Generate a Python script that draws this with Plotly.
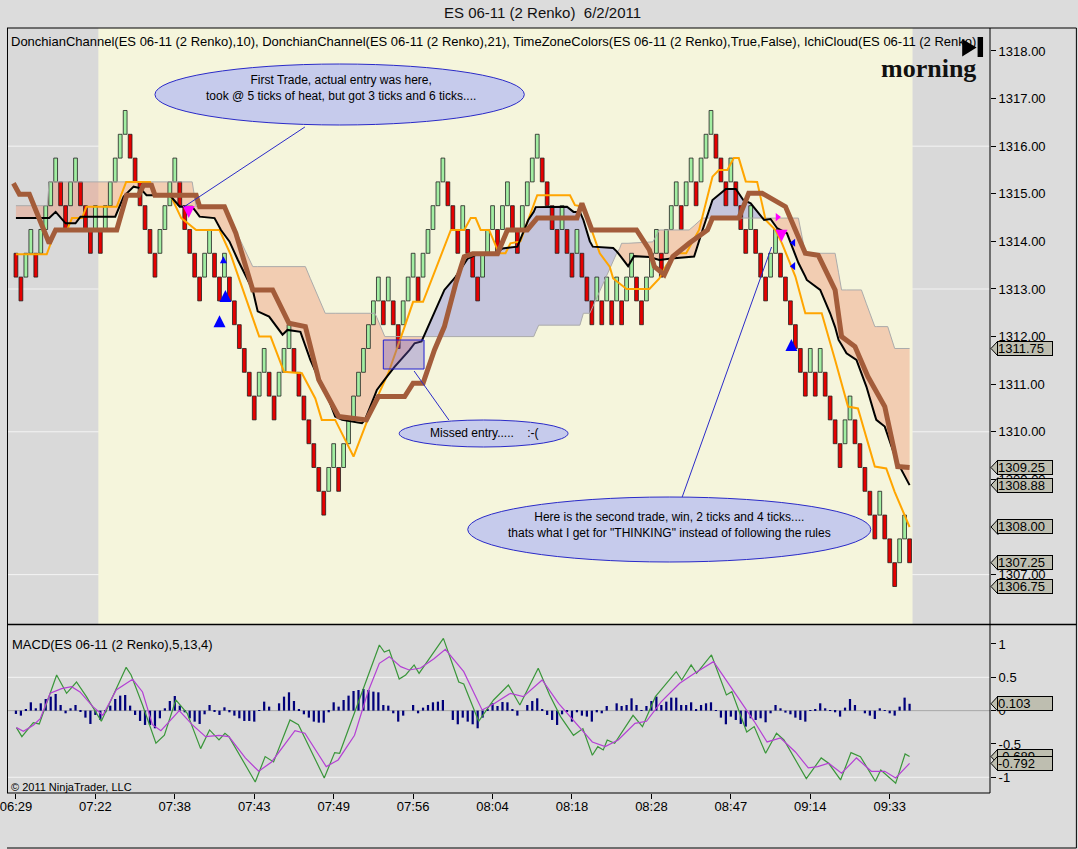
import plotly.graph_objects as go

# ---------------- data ----------------
# Renko closes (2 tick bricks = 0.5 pt), one per bar, left to right
closes = [
    1313.25, 1312.75, 1313.75, 1314.25, 1313.25, 1314.25, 1314.75, 1315.25, 1315.75, 1314.75,
    1314.25, 1315.25, 1315.75, 1314.75, 1314.25, 1313.75, 1314.75, 1313.75, 1314.75, 1315.25,
    1315.75, 1316.25, 1316.75, 1315.75, 1315.25, 1314.75, 1314.25, 1313.75, 1313.25, 1314.25,
    1314.75, 1315.25, 1315.75, 1314.75, 1314.25, 1313.75, 1313.25, 1312.75, 1313.75, 1314.25,
    1313.25, 1312.75, 1313.75, 1312.75, 1312.25, 1311.75, 1311.25, 1310.75, 1310.25, 1311.25,
    1311.75, 1310.75, 1310.25, 1311.25, 1311.75, 1312.25, 1311.25, 1310.75, 1310.25, 1309.75,
    1309.25, 1308.75, 1308.25, 1309.25, 1309.75, 1308.75, 1309.75, 1310.25, 1310.75, 1311.25,
    1311.75, 1312.25, 1312.75, 1313.25, 1312.25, 1313.25, 1312.25, 1311.75, 1312.75, 1313.25,
    1313.75, 1312.75, 1313.75, 1314.25, 1314.75, 1315.25, 1315.75, 1314.75, 1314.25, 1313.75,
    1314.75, 1313.75, 1313.25, 1312.75, 1313.75, 1314.25, 1314.75, 1313.75, 1314.75, 1315.25,
    1314.25, 1313.75, 1314.75, 1315.25, 1315.75, 1316.25, 1315.25, 1314.75, 1314.25, 1313.75,
    1314.75, 1313.75, 1313.25, 1314.25, 1313.25, 1312.75, 1312.25, 1313.25, 1312.25, 1313.25,
    1312.25, 1313.25, 1312.25, 1313.25, 1313.75, 1312.75, 1312.25, 1313.25, 1313.75, 1314.25,
    1313.25, 1314.25, 1314.75, 1315.25, 1314.25, 1315.25, 1315.75, 1314.75, 1315.75, 1316.25,
    1316.75, 1315.75, 1315.25, 1314.75, 1315.75, 1314.75, 1314.25, 1313.75, 1314.75, 1313.75,
    1313.25, 1312.75, 1313.75, 1314.25, 1313.25, 1312.75, 1312.25, 1311.75, 1311.25, 1310.75,
    1311.75, 1310.75, 1311.75, 1310.75, 1310.25, 1309.75, 1309.25, 1310.25, 1310.75, 1309.75,
    1309.25, 1308.75, 1308.25, 1307.75, 1308.75, 1307.75, 1307.25, 1306.75, 1307.75, 1308.25,
    1307.25,
]
first_open = 1313.75
brick = 0.5

tick_labels = ["06:29", "07:22", "07:38", "07:43", "07:49", "07:56",
               "08:04", "08:18", "08:28", "08:47", "09:14", "09:33"]
tick_bars = [0, 16, 32, 48, 64, 80, 96, 112, 128, 144, 160, 176]
price_ticks = [1307, 1308, 1309, 1310, 1311, 1312, 1313, 1314, 1315, 1316, 1317, 1318]

# Donchian(10) middle (orange)
orange_x = [0, 6.2, 8, 10.3, 11.3, 13.3, 14.2, 20.3, 22.2, 27, 28.3, 31, 33.3, 36.3, 41, 43.3,
            49, 51.3, 54, 57.6, 60.3, 61.6, 64.3, 68, 71.6, 75, 78.3, 80, 82, 87.6, 90.3, 91.6,
            92.6, 93.6, 95.3, 97.3, 98.6, 99.6, 101.6, 103.3, 105, 111.6, 112.6, 114.3, 116,
            117.6, 119.6, 120.3, 123, 127.6, 129.6, 131, 133, 135, 137.6, 140.3, 141.6, 143.3,
            144.6, 145.6, 147, 149.3, 151, 153, 154.3, 157, 159, 162.3, 165, 167.6, 169.6, 173,
            175.3, 177, 180]
orange_y = [1313.73, 1313.73, 1314.24, 1314.24, 1314.49, 1314.49, 1314.73, 1314.73, 1315.25,
            1315.25, 1314.97, 1315.0, 1314.49, 1314.24, 1314.24, 1313.71, 1312.0, 1312.0,
            1311.26, 1311.23, 1310.70, 1310.25, 1310.25, 1309.48, 1310.46, 1311.23, 1312.21,
            1312.73, 1312.73, 1314.24, 1314.24, 1314.49, 1314.49, 1314.24, 1314.24, 1313.75,
            1313.75, 1313.96, 1314.0, 1314.48, 1314.97, 1314.97, 1314.76, 1314.73, 1314.24,
            1313.75, 1313.47, 1313.22, 1313.0, 1313.0, 1313.22, 1313.5, 1313.75, 1313.75,
            1314.24, 1315.36, 1315.5, 1315.5, 1315.75, 1315.75, 1315.26, 1315.25, 1314.45,
            1314.24, 1313.96, 1313.26, 1312.49, 1312.49, 1311.51, 1310.53, 1310.49, 1309.27,
            1309.23, 1308.74, 1308.0]

# Donchian(21) middle (thick brown)
brown_x = [-0.5, 0.7, 2.7, 6.7, 8, 20.3, 22.3, 24.7, 25.7, 27.3, 28, 36.3, 37, 42, 44.3, 47.7,
           51.7, 55, 58.3, 61, 65, 70.6, 73, 78.3, 80, 82, 84.3, 86.3, 88.6, 90.3, 92, 97, 99,
           103, 105, 113, 114, 116, 125, 127.6, 128.6, 130.6, 132.3, 135.6, 139.3, 140.3, 145.6,
           147.6, 150.3, 155, 157, 159, 161.6, 165, 166.3, 169, 171.6, 175, 177.6, 180]
brown_y = [1315.22, 1314.99, 1314.99, 1313.96, 1314.24, 1314.24, 1314.97, 1314.97, 1315.18,
           1315.18, 1314.97, 1314.97, 1314.73, 1314.73, 1314.17, 1312.98, 1312.98, 1312.28,
           1312.21, 1311.09, 1310.32, 1310.25, 1310.74, 1310.74, 1311.02, 1311.02, 1311.72,
           1312.21, 1313.12, 1313.68, 1313.74, 1313.74, 1314.24, 1314.24, 1314.49, 1314.49,
           1314.8, 1314.24, 1314.24, 1313.82, 1313.47, 1313.3, 1313.68, 1313.96, 1314.24,
           1314.49, 1314.49, 1315.01, 1315.01, 1314.73, 1314.24, 1313.75, 1313.71, 1312.98,
           1312.0, 1311.79, 1311.16, 1310.53, 1309.27, 1309.25]

# Ichi cloud: span A (black line) and span B (grey edge) on one grid
ichi_x = [0, 6.3, 6.7, 8, 9, 10, 12, 13, 20, 21.7,
          23.7, 25, 26.3, 31, 33, 35.5, 36.3, 37, 40, 41.3,
          42, 43, 44.7, 46.7, 47.7, 48.7, 51, 53.7, 54.7, 57.3,
          58.3, 59.3, 60.5, 62, 62.3, 64.3, 65.7, 69.7, 70.3, 72.3,
          72.7, 74.3, 76.3, 79.3, 80.3, 81.7, 84.3, 86.3, 88.6, 91,
          93.3, 96.7, 98, 101, 103.2, 104.3, 104.7, 105.3, 111, 112.3,
          113.6, 114.3, 115.6, 116.2, 120.3, 121, 121.6, 122, 123.3, 124.5,
          127.6, 128.3, 129.6, 132, 135.6, 136.6, 138.3, 140.3, 143, 145,
          146.5, 148, 149.3, 150.7, 152, 153.3, 155.3, 157.3, 157.6, 159,
          159.3, 162, 164, 165, 165.7, 166.3, 167.3, 169.3, 170.3, 171.3,
          173, 173.3, 175, 175.6, 177, 177.3, 180]
span_a = [1314.49, 1314.49, 1314.49, 1314.62, 1314.49, 1314.38, 1314.38, 1314.52, 1314.52, 1314.94,
          1315.15, 1315.12, 1314.97, 1314.97, 1314.73, 1314.73, 1314.62, 1314.52, 1314.49, 1314.24,
          1314.14, 1314.0, 1313.61, 1313.19, 1312.98, 1312.53, 1312.42, 1312.04, 1312.14, 1312.1,
          1311.8, 1311.51, 1311.23, 1310.95, 1310.87, 1310.32, 1310.25, 1310.18, 1310.25, 1310.77,
          1310.88, 1311.1, 1311.37, 1311.72, 1311.86, 1311.9, 1312.49, 1312.98, 1313.26, 1313.64,
          1313.75, 1313.75, 1313.85, 1313.89, 1314.45, 1314.62, 1314.72, 1314.72, 1314.73, 1314.62,
          1314.62, 1314.45, 1314.0, 1313.89, 1313.86, 1313.79, 1313.72, 1313.66, 1313.48, 1313.69,
          1313.67, 1313.65, 1313.61, 1313.64, 1313.67, 1313.68, 1314.24, 1314.87, 1315.1, 1315.1,
          1314.87, 1314.8, 1314.63, 1314.45, 1314.47, 1314.28, 1314.17, 1313.61, 1313.55, 1313.26,
          1313.19, 1312.98, 1312.49, 1312.2, 1311.93, 1311.83, 1311.65, 1311.51, 1311.23, 1310.95,
          1310.35, 1310.25, 1310.11, 1309.93, 1309.5, 1309.41, 1308.88]
span_b = [1314.75, 1314.75, 1315.25, 1315.25, 1315.25, 1315.25, 1315.25, 1315.25, 1315.25, 1315.25,
          1315.25, 1315.25, 1315.25, 1315.25, 1315.25, 1315.25, 1314.73, 1314.73, 1314.73, 1314.73,
          1314.73, 1314.51, 1314.13, 1313.69, 1313.47, 1313.47, 1313.47, 1313.47, 1313.47, 1313.47,
          1313.47, 1313.22, 1312.93, 1312.56, 1312.49, 1312.49, 1312.49, 1312.49, 1312.49, 1312.49,
          1312.4, 1312.0, 1312.0, 1312.0, 1312.0, 1312.0, 1312.0, 1312.0, 1312.0, 1312.0,
          1312.0, 1312.0, 1312.0, 1312.0, 1312.0, 1312.0, 1312.1, 1312.24, 1312.24, 1312.24,
          1312.24, 1312.49, 1312.49, 1312.63, 1313.59, 1313.75, 1313.85, 1313.96, 1313.96, 1313.97,
          1313.98, 1313.99, 1314.24, 1314.24, 1314.24, 1314.33, 1314.49, 1314.49, 1314.49, 1314.49,
          1314.49, 1314.49, 1314.49, 1314.49, 1314.49, 1314.49, 1314.49, 1314.49, 1314.49, 1313.75,
          1313.75, 1313.75, 1313.75, 1313.75, 1313.34, 1312.98, 1312.98, 1312.98, 1312.98, 1312.69,
          1312.21, 1312.21, 1312.21, 1312.21, 1311.75, 1311.75, 1311.75]
channel_low_last = 1306.75

# trade markers
sell_x = [34.8, 154.2]
sell_y = [1314.49, 1313.99]
buy_x = [41.0, 42.2, 156.2]
buy_y = [1312.45, 1312.98, 1311.95]
tick_up_x = [41.8]
tick_up_y = [1313.69]
exit_short_x = [153.4]
exit_short_y = [1314.51]
exit_long_x = [156.6, 156.6]
exit_long_y = [1313.97, 1313.48]

# MACD(5,13,4)
macd_x = [0.1, 1.2, 3.5, 4.7, 8.2, 10.2, 12.2, 14.2, 17.2, 22.2, 23.2, 25.5, 28.2, 29.9, 32.2,
          34.5, 37.2, 39.0, 40.9, 42.1, 42.9, 48.2, 50.2, 51.9, 55.2, 56.9, 62.1, 64.2, 65.2,
          73.2, 74.2, 75.2, 77.2, 78.5, 80.2, 81.2, 86.1, 89.2, 90.2, 93.2, 96.2, 99.2, 101.5,
          105.2, 107.5, 109.7, 112.3, 114.2, 116.1, 117.2, 118.3, 119.1, 120.6, 124.3, 126.2,
          128.8, 133.0, 134.1, 136.0, 137.1, 140.1, 143.1, 144.2, 147.2, 148.7, 151.0, 153.2,
          154.7, 159.2, 162.2, 163.7, 166.1, 168.2, 170.1, 173.1, 174.2, 177.2, 179.1, 180.0]
macd_y = [-0.255, -0.39, -0.18, -0.2, 0.535, 0.26, 0.43, 0.21, -0.16, 0.65, 0.535, 0.085, -0.49,
          -0.37, 0.16, -0.04, -0.57, -0.29, -0.44, -0.34, -0.39, -1.07, -0.69, -0.77, -0.14,
          -0.21, -1.01, -0.63, -0.64, 0.985, 0.88, 0.91, 0.475, 0.535, 0.685, 0.56, 1.085, 0.43,
          0.40, -0.16, 0.16, 0.385, 0.085, 0.635, 0.235, -0.09, -0.37, -0.27, -0.67, -0.54,
          -0.59, -0.44, -0.49, -0.07, -0.24, 0.21, 0.585, 0.46, 0.685, 0.56, 0.835, 0.235,
          0.285, -0.32, -0.24, -0.64, -0.34, -0.44, -1.02, -0.71, -0.79, -1.04, -0.63, -0.69,
          -1.06, -0.89, -1.09, -0.65, -0.689]
signal_x = [0.1, 1.5, 3.5, 4.9, 6.9, 9.2, 11.2, 12.9, 15.5, 17.5, 20.2, 23.5, 25.5, 27.5, 29.2,
            32.9, 35.5, 38.2, 40.9, 42.9, 46.2, 48.9, 51.5, 56.2, 58.2, 62.5, 64.9, 68.2, 70.9,
            73.2, 75.2, 77.5, 79.2, 81.5, 84.2, 86.5, 90.2, 93.9, 96.2, 99.6, 102.2, 106.0,
            109.3, 113.1, 116.1, 118.7, 121.3, 124.7, 127.0, 130.0, 133.7, 136.7, 140.5, 143.5,
            146.5, 148.7, 151.3, 154.0, 157.0, 159.6, 161.5, 163.7, 166.3, 169.3, 172.3, 175.0,
            177.2, 180.0]
signal_y = [-0.255, -0.31, -0.22, -0.12, 0.26, 0.33, 0.36, 0.28, 0.06, -0.07, 0.31, 0.47, 0.28,
            -0.21, -0.30, 0.0, -0.21, -0.39, -0.37, -0.39, -0.71, -0.91, -0.77, -0.30, -0.34,
            -0.84, -0.74, -0.37, 0.28, 0.71, 0.81, 0.66, 0.61, 0.64, 0.78, 0.92, 0.585, 0.01,
            0.10, 0.26, 0.21, 0.46, 0.11, -0.21, -0.47, -0.54, -0.44, -0.19, -0.16, 0.135, 0.41,
            0.56, 0.735, 0.41, 0.085, -0.16, -0.47, -0.41, -0.62, -0.86, -0.84, -0.79, -0.94,
            -0.71, -0.91, -0.91, -1.01, -0.792]
hist = [
    -0.05, -0.075, 0.025, 0.125, 0.035, 0.11, 0.175, 0.21, 0.25, 0.085,
    -0.04, 0.035, 0.085, -0.015, -0.105, -0.2, -0.065, -0.14, -0.025, 0.075,
    0.175, 0.225, 0.235, 0.075, -0.065, -0.155, -0.215, -0.215, -0.265, -0.115,
    0.035, 0.145, 0.22, 0.075, -0.025, -0.115, -0.165, -0.2, -0.055, 0.085,
    -0.015, -0.065, 0.05, -0.025, -0.075, -0.115, -0.155, -0.155, -0.165, -0.005,
    0.135, 0.06, 0.0, 0.11, 0.21, 0.275, 0.145, 0.025, -0.055, -0.105,
    -0.165, -0.18, -0.18, -0.025, 0.125, 0.06, 0.16, 0.225, 0.295, 0.31,
    0.325, 0.31, 0.285, 0.275, 0.085, 0.075, -0.04, -0.165, -0.075, 0.0,
    0.085, -0.04, 0.045, 0.085, 0.125, 0.135, 0.16, 0.0, -0.14, -0.205,
    -0.105, -0.165, -0.205, -0.265, -0.105, 0.025, 0.11, 0.07, 0.13, 0.125,
    0.025, -0.075, 0.0, 0.085, 0.145, 0.185, 0.025, -0.065, -0.14, -0.215,
    -0.055, -0.015, -0.165, -0.025, -0.075, -0.09, -0.165, -0.025, -0.04, 0.07,
    0.0, 0.11, 0.07, 0.085, 0.185, 0.085, -0.005, 0.07, 0.145, 0.21,
    0.085, 0.135, 0.195, 0.195, 0.085, 0.085, 0.125, 0.01, 0.085, 0.11,
    0.125, -0.005, -0.105, -0.205, -0.09, -0.14, -0.2, -0.24, -0.115, -0.14,
    -0.115, -0.175, -0.04, 0.085, 0.035, -0.03, -0.055, -0.105, -0.14, -0.165,
    -0.005, 0.01, 0.11, 0.035, -0.005, -0.025, -0.09, 0.045, 0.175, 0.085,
    0.0, -0.04, -0.075, -0.125, 0.035, -0.005, -0.04, -0.075, 0.06, 0.195,
    0.103,
]

# ---------------- layout helpers (pixel -> paper) ----------------
W, H = 1078, 849
PLOT_W, PLOT_TOP, PLOT_BOT = 990, 28, 793
FONT = "Liberation Sans, Arial, sans-serif"


def pxx(x):
    return x / PLOT_W


def pxy(y):
    return (PLOT_BOT - y) / (PLOT_BOT - PLOT_TOP)


n = len(closes)
bars = list(range(n))
opens = []
for i, c in enumerate(closes):
    if i == 0:
        opens.append(first_open)
    else:
        opens.append(c - brick if c > closes[i - 1] else c + brick)
up = [c > o for o, c in zip(opens, closes)]
body_lo = [min(o, c) for o, c in zip(opens, closes)]
body_h = [abs(c - o) for o, c in zip(opens, closes)]

fig = go.Figure()

# renko bricks
fig.add_trace(go.Bar(
    x=bars, y=body_h, base=body_lo, width=0.76,
    marker=dict(color=["#A2EEA2" if u else "#E60000" for u in up],
                line=dict(color="#202020", width=0.8)),
    hoverinfo="skip", xaxis="x", yaxis="y"))

# cloud edge (span B)
fig.add_trace(go.Scatter(x=ichi_x, y=span_b, mode="lines",
                         line=dict(color="#ABABAB", width=1), hoverinfo="skip"))
# indicator lines
fig.add_trace(go.Scatter(x=orange_x, y=orange_y, mode="lines",
                         line=dict(color="#FFA500", width=2), hoverinfo="skip"))
fig.add_trace(go.Scatter(x=ichi_x, y=span_a, mode="lines",
                         line=dict(color="#000000", width=2), hoverinfo="skip"))
fig.add_trace(go.Scatter(x=brown_x, y=brown_y, mode="lines",
                         line=dict(color="#A35C3A", width=5), hoverinfo="skip"))

# trade markers
fig.add_trace(go.Scatter(x=sell_x, y=sell_y, mode="markers",
                         marker=dict(symbol="arrow-down", size=12, color="#FF00FF"), hoverinfo="skip"))
fig.add_trace(go.Scatter(x=buy_x, y=buy_y, mode="markers",
                         marker=dict(symbol="arrow-up", size=12, color="#0000FF"), hoverinfo="skip"))
fig.add_trace(go.Scatter(x=tick_up_x, y=tick_up_y, mode="markers",
                         marker=dict(symbol="arrow-up", size=7, color="#0000FF"), hoverinfo="skip"))
fig.add_trace(go.Scatter(x=exit_short_x, y=exit_short_y, mode="markers",
                         marker=dict(symbol="triangle-right", size=7, color="#FF00FF"), hoverinfo="skip"))
fig.add_trace(go.Scatter(x=exit_long_x, y=exit_long_y, mode="markers",
                         marker=dict(symbol="triangle-left", size=7, color="#0000FF"), hoverinfo="skip"))

# MACD panel
fig.add_trace(go.Bar(x=bars, y=hist, width=0.45, marker=dict(color="#00007A", line=dict(width=0)),
                     hoverinfo="skip", xaxis="x", yaxis="y2"))
fig.add_trace(go.Scatter(x=macd_x, y=macd_y, mode="lines", line=dict(color="#3A963A", width=1.2),
                         hoverinfo="skip", yaxis="y2"))
fig.add_trace(go.Scatter(x=signal_x, y=signal_y, mode="lines", line=dict(color="#B440D4", width=1.2),
                         hoverinfo="skip", yaxis="y2"))

shapes = []
# price grid (only visible outside the session colour)
for v in [1316, 1313, 1310, 1307]:
    shapes.append(dict(type="line", xref="x domain", x0=0, x1=1, yref="y", y0=v, y1=v,
                       line=dict(color="#F4F4F4", width=1), layer="below"))
# morning session background
shapes.append(dict(type="rect", xref="x", x0=16.6, x1=180.6, yref="y domain", y0=0, y1=1,
                   fillcolor="#F5F5DC", line=dict(width=0), layer="below"))

# cloud polygons, split where span A crosses span B
segs = []
cur, sx, st, sb = None, [], [], []
for k in range(len(ichi_x)):
    a, b = span_a[k], span_b[k]
    kind = "bull" if a > b else "bear"
    if cur is not None and kind != cur:
        d0 = span_a[k - 1] - span_b[k - 1]
        d1 = a - b
        t = d0 / (d0 - d1)
        xc = ichi_x[k - 1] + t * (ichi_x[k] - ichi_x[k - 1])
        yc = span_a[k - 1] + t * (a - span_a[k - 1])
        sx.append(xc); st.append(yc); sb.append(yc)
        segs.append((cur, sx, st, sb))
        sx, st, sb = [xc], [yc], [yc]
    cur = kind
    sx.append(ichi_x[k]); st.append(max(a, b)); sb.append(min(a, b))
segs.append((cur, sx, st, sb))

for kind, xs, tops, bots in segs:
    pts = list(zip(xs, tops)) + list(zip(xs[::-1], bots[::-1]))
    path = "M " + " L ".join(f"{x:.3f},{y:.3f}" for x, y in pts) + " Z"
    col = "rgba(140,140,220,0.45)" if kind == "bull" else "rgba(238,150,120,0.42)"
    shapes.append(dict(type="path", path=path, xref="x", yref="y", fillcolor=col,
                       line=dict(width=0), layer="below"))

# MACD grid + zero line
for v in [0.5, -1]:
    shapes.append(dict(type="line", xref="x domain", x0=0, x1=1, yref="y2", y0=v, y1=v,
                       line=dict(color="#F4F4F4", width=1), layer="below"))
shapes.append(dict(type="line", xref="x domain", x0=0, x1=1, yref="y2", y0=0, y1=0,
                   line=dict(color="#A8A8A8", width=1), layer="below"))

# call-outs
ELL_FILL, ELL_LINE = "#C6CBEC", "#2A2AC8"
shapes.append(dict(type="line", xref="paper", yref="paper", x0=pxx(300), y0=pxy(127),
                   x1=pxx(178), y1=pxy(207), line=dict(color=ELL_LINE, width=1)))
shapes.append(dict(type="circle", xref="paper", yref="paper", x0=pxx(149), x1=pxx(521),
                   y0=pxy(125), y1=pxy(64), fillcolor=ELL_FILL, line=dict(color=ELL_LINE, width=1)))
shapes.append(dict(type="rect", xref="paper", yref="paper", x0=pxx(379), x1=pxx(420),
                   y0=pxy(369), y1=pxy(340), fillcolor="rgba(110,90,200,0.35)",
                   line=dict(color="#2020D0", width=1)))
shapes.append(dict(type="line", xref="paper", yref="paper", x0=pxx(410), y0=pxy(371),
                   x1=pxx(445), y1=pxy(420), line=dict(color=ELL_LINE, width=1)))
shapes.append(dict(type="circle", xref="paper", yref="paper", x0=pxx(395), x1=pxx(565),
                   y0=pxy(447), y1=pxy(420), fillcolor=ELL_FILL, line=dict(color=ELL_LINE, width=1)))
shapes.append(dict(type="line", xref="paper", yref="paper", x0=pxx(680), y0=pxy(497),
                   x1=pxx(770), y1=pxy(247), line=dict(color=ELL_LINE, width=1)))
shapes.append(dict(type="circle", xref="paper", yref="paper", x0=pxx(464), x1=pxx(870),
                   y0=pxy(562), y1=pxy(497), fillcolor=ELL_FILL, line=dict(color=ELL_LINE, width=1)))

# "next" glyph in the corner
shapes.append(dict(type="path", xref="paper", yref="paper",
                   path=f"M {pxx(962)},{pxy(39)} L {pxx(976.5)},{pxy(47.5)} L {pxx(962)},{pxy(56.5)} Z",
                   fillcolor="#000", line=dict(width=0)))
shapes.append(dict(type="rect", xref="paper", yref="paper", x0=pxx(977.5), x1=pxx(983),
                   y0=pxy(57), y1=pxy(37), fillcolor="#000", line=dict(width=0)))

# frame
FR = dict(color="#000000", width=1)
shapes += [
    dict(type="line", xref="paper", yref="paper", x0=0, x1=pxx(1077), y0=1, y1=1, line=FR),
    dict(type="line", xref="paper", yref="paper", x0=0, x1=pxx(1077), y0=pxy(624.5), y1=pxy(624.5),
         line=dict(color="#000000", width=1.5)),
    dict(type="line", xref="paper", yref="paper", x0=1, x1=1, y0=0, y1=1, line=FR),
    dict(type="line", xref="paper", yref="paper", x0=0, x1=1, y0=0, y1=0, line=FR),
    dict(type="line", xref="paper", yref="paper", x0=pxx(0.5), x1=pxx(0.5), y0=0, y1=1, line=FR),
    dict(type="line", xref="paper", yref="paper", x0=pxx(1077), x1=pxx(1077), y0=pxy(848), y1=1, line=FR),
    dict(type="line", xref="paper", yref="paper", x0=0, x1=pxx(1077), y0=pxy(848), y1=pxy(848), line=FR),
]


def label(text, x, y, size=12, xanchor="center", family=FONT, color="#000"):
    return dict(text=text, xref="paper", yref="paper", x=pxx(x), y=pxy(y), xanchor=xanchor,
                yanchor="middle", showarrow=False, font=dict(family=family, size=size, color=color))


annotations = [
    label("ES 06-11 (2 Renko)  6/2/2011", 539, 12, size=15, color="#111"),
    label("DonchianChannel(ES 06-11 (2 Renko),10), DonchianChannel(ES 06-11 (2 Renko),21), "
          "TimeZoneColors(ES 06-11 (2 Renko),True,False), IchiCloud(ES 06-11 (2 Renko)",
          2, 41, size=13, xanchor="left"),
    label("<b>morning</b>", 978, 68, size=26, xanchor="right",
          family="Liberation Serif, Times New Roman, serif", color="#111"),
    label("First Trade, actual entry was here,<br>took @ 5 ticks of heat, but got 3 ticks and 6 ticks....",
          336, 88),
    label("Missed entry.....    :-(", 480, 433),
    label("Here is the second trade, win, 2 ticks and 4 ticks....<br>"
          "thats what I get for \"THINKING\" instead of following the rules", 667, 525),
    label("MACD(ES 06-11 (2 Renko),5,13,4)", 3, 644, size=13, xanchor="left"),
    label("© 2011 NinjaTrader, LLC", 2, 787, size=11, xanchor="left"),
]

# value flags on the right axis
LABEL_FILL = "#BEBEB0"
price_flags = [span_b[-1], brown_y[-1], span_a[-1], orange_y[-1], closes[-1], channel_low_last]
macd_flags = [hist[-1], macd_y[-1], signal_y[-1]]
for axis, vals, half, fmt in [("y", price_flags, 7.5 / 47.6, "{:.2f}"), ("y2", macd_flags, 7.5 / 66.7, "{:.3f}")]:
    for v in vals:
        shapes.append(dict(type="path", xref="paper", yref=axis,
                           path=f"M {pxx(991)},{v} L {pxx(998)},{v + half} L {pxx(998)},{v - half} Z",
                           fillcolor=LABEL_FILL, line=dict(color="#000", width=1)))
        annotations.append(dict(text=fmt.format(v), xref="paper", yref=axis, x=pxx(997), y=v,
                                xanchor="left", yanchor="middle", showarrow=False, width=54, height=13,
                                align="left", bgcolor=LABEL_FILL, bordercolor="#000", borderwidth=1,
                                borderpad=0, font=dict(family=FONT, size=13, color="#000")))

axis_font = dict(family=FONT, size=13, color="#000")
fig.update_layout(
    width=W, height=H,
    margin=dict(l=0, r=W - PLOT_W, t=PLOT_TOP, b=H - PLOT_BOT),
    paper_bgcolor="#DCDCDC", plot_bgcolor="#D9D9D9",
    showlegend=False, barmode="overlay", hovermode=False,
    xaxis=dict(domain=[0, 1], range=[-1.8, 196.2], anchor="y2", tickmode="array",
               tickvals=tick_bars, ticktext=tick_labels, ticks="outside", ticklen=5,
               tickcolor="#000", tickfont=axis_font, showgrid=False, zeroline=False,
               showline=False, ticklabeloverflow="allow", ticklabelstandoff=-4),
    yaxis=dict(domain=[pxy(624), 1], range=[1305.962, 1318.483], side="right", anchor="x",
               tickmode="array", tickvals=price_ticks, ticktext=[f"{v:.2f}" for v in price_ticks],
               ticks="outside", ticklen=5, tickcolor="#000",
               tickfont=axis_font, showgrid=False, zeroline=False, showline=False),
    yaxis2=dict(domain=[0, pxy(626)], range=[-1.236, 1.27], side="right", anchor="x",
                tickmode="array", tickvals=[-1, -0.5, 0, 0.5, 1],
                ticktext=["-1", "-0.5", "0", "0.5", "1"], ticks="outside", ticklen=5,
                tickcolor="#000", tickfont=axis_font, showgrid=False, zeroline=False,
                showline=False),
    shapes=shapes, annotations=annotations,
)

fig.write_html("out.html", config={"displayModeBar": False},
               post_script="document.body.style.margin='0';document.body.style.padding='0';")
